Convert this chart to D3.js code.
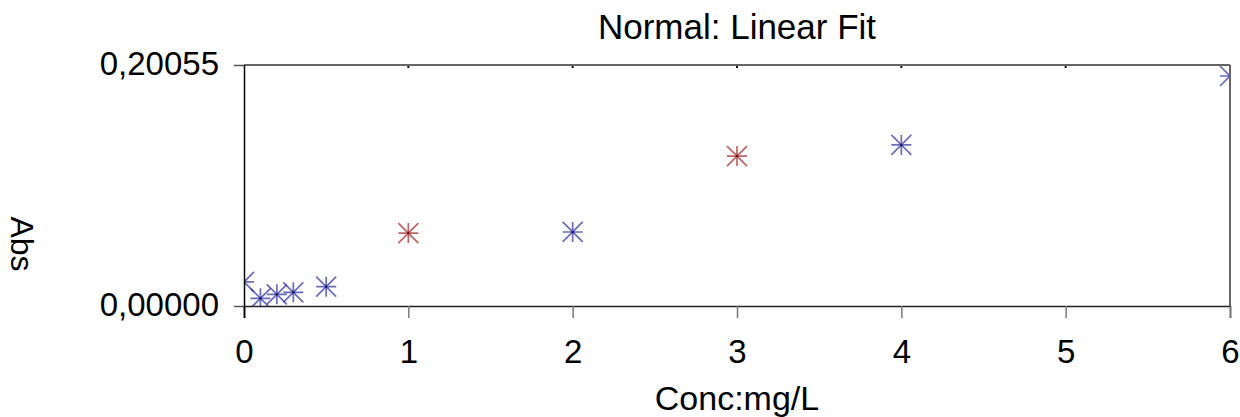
<!DOCTYPE html>
<html>
<head>
<meta charset="utf-8">
<script src="https://cdn.jsdelivr.net/npm/d3@7"></script>
<style>
  body { margin: 0; background: #fff; }
  svg text { font-family: "Liberation Sans", Arial, sans-serif; fill: #000; }
</style>
</head>
<body>
<svg id="chart" width="1240" height="417"></svg>
<script>
// Calibration data: concentration (mg/L) vs absorbance
const title = "Normal: Linear Fit";
const xLabel = "Conc:mg/L";
const yLabel = "Abs";
const concentrations = [0, 0.1, 0.2, 0.3, 0.5, 1, 2, 3, 4, 6];
const absorbances = [0.0200, 0.0064, 0.0097, 0.0114, 0.0161, 0.0607, 0.0616, 0.1248, 0.1340, 0.1914];
const pointKinds = ["standard", "standard", "standard", "standard", "standard",
                    "sample", "standard", "sample", "standard", "standard"];
const xTicks = [0, 1, 2, 3, 4, 5, 6];
const yTicks = [0, 0.20055];
const yTickLabels = ["0,00000", "0,20055"];

const points = concentrations.map((c, i) => ({ c, a: absorbances[i], kind: pointKinds[i] }));

const W = 1240, H = 417;
const m = { left: 244, right: 10, top: 65, bottom: 111 };
const svg = d3.select("#chart");

const x = d3.scaleLinear().domain([0, 6]).range([m.left, W - m.right]);
const y = d3.scaleLinear().domain([yTicks[0], yTicks[1]]).range([H - m.bottom, m.top]);

const markerStroke = { standard: "#3a3aa8", sample: "#a83232" };
const markerCore = { standard: "#161668", sample: "#681212" };

// clip markers to the plot frame
svg.append("defs").append("clipPath").attr("id", "plot-clip")
  .append("rect")
  .attr("x", x(0)).attr("y", y(yTicks[1]))
  .attr("width", x(6) - x(0)).attr("height", y(0) - y(yTicks[1]));

// asterisk markers
const star = "M-10,0H10M0,-10V10M-10,-10L10,10M-10,10L10,-10";
const marks = svg.append("g").attr("clip-path", "url(#plot-clip)")
  .selectAll("g.pt").data(points).join("g")
  .attr("class", "pt")
  .attr("transform", d => `translate(${x(d.c)},${y(d.a)})`);
marks.append("path")
  .attr("d", star)
  .attr("fill", "none")
  .attr("stroke", d => markerStroke[d.kind])
  .attr("stroke-opacity", 0.75)
  .attr("stroke-width", 1.7);
marks.append("circle")
  .attr("r", 1.3)
  .attr("fill", d => markerCore[d.kind]);

// frame: top and right borders in grey
svg.append("line")
  .attr("x1", x(0)).attr("x2", x(6)).attr("y1", y(yTicks[1])).attr("y2", y(yTicks[1]))
  .attr("stroke", "#666").attr("stroke-width", 2);
svg.append("line")
  .attr("x1", x(6)).attr("x2", x(6)).attr("y1", y(yTicks[1])).attr("y2", y(0))
  .attr("stroke", "#666").attr("stroke-width", 2);
// small inner ticks along the top border
svg.append("g").selectAll("rect").data(xTicks.slice(1, -1)).join("rect")
  .attr("x", d => x(d) - 1).attr("y", y(yTicks[1]) + 1)
  .attr("width", 2).attr("height", 2).attr("fill", "#111");

// x axis
const xAxis = svg.append("g")
  .attr("transform", `translate(0,${y(0)})`)
  .call(d3.axisBottom(x).tickValues(xTicks).tickSize(12).tickFormat(d3.format("d")));
xAxis.select(".domain").attr("stroke", "#222").attr("stroke-width", 1.5);
xAxis.selectAll(".tick line").attr("stroke", "#777").attr("stroke-width", 1.5);
xAxis.selectAll(".tick text")
  .attr("y", 57).attr("dy", null)
  .style("font-size", "33px");

// y axis
const yAxis = svg.append("g")
  .attr("transform", `translate(${x(0)},0)`)
  .call(d3.axisLeft(y).tickValues(yTicks).tickSize(10)
    .tickFormat((d, i) => yTickLabels[i]));
yAxis.select(".domain").remove();
yAxis.selectAll(".tick line").attr("stroke", "#555").attr("stroke-width", 1.5);
yAxis.selectAll(".tick text")
  .attr("x", -25).attr("dy", null).attr("y", 9)
  .style("font-size", "33px");
// left axis line, running a little past the bottom axis
svg.append("line")
  .attr("x1", x(0) + 0.5).attr("x2", x(0) + 0.5)
  .attr("y1", y(yTicks[1])).attr("y2", y(0) + 12)
  .attr("stroke", "#000").attr("stroke-width", 1.5);

// titles
svg.append("text")
  .attr("x", (x(0) + x(6)) / 2).attr("y", 39)
  .attr("text-anchor", "middle")
  .style("font-size", "35px")
  .text(title);
svg.append("text")
  .attr("x", (x(0) + x(6)) / 2).attr("y", 410)
  .attr("text-anchor", "middle")
  .style("font-size", "34px")
  .text(xLabel);
svg.append("text")
  .attr("transform", "translate(11,244) rotate(90)")
  .attr("text-anchor", "middle")
  .style("font-size", "32px")
  .text(yLabel);
</script>
</body>
</html>
